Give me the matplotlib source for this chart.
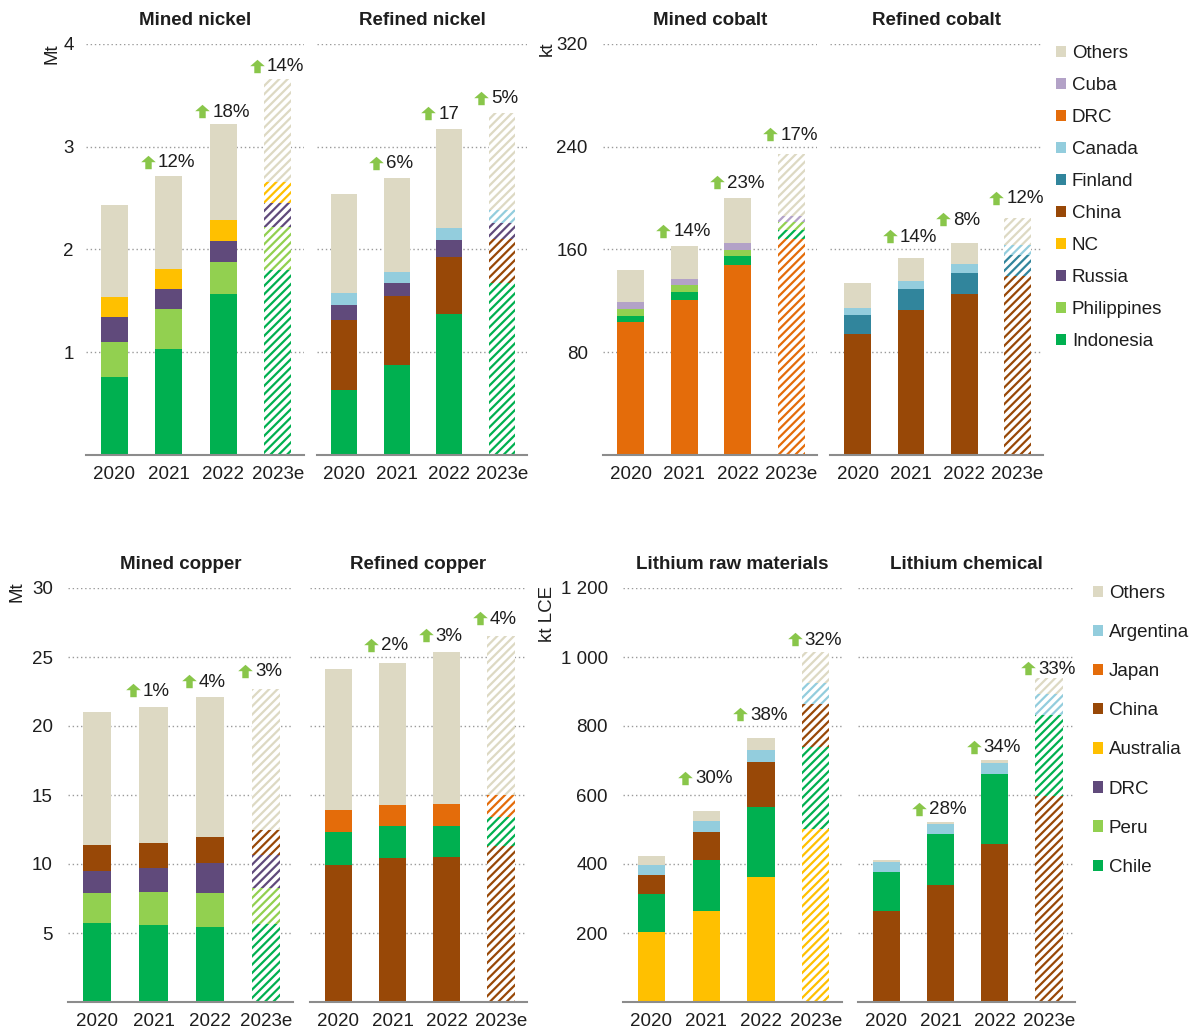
import matplotlib
matplotlib.use('Agg')
import matplotlib.pyplot as plt
import matplotlib.transforms as mtransforms
from matplotlib.patches import Patch
from matplotlib.ticker import FuncFormatter

plt.rcParams['font.family'] = ['Liberation Sans', 'DejaVu Sans']
plt.rcParams['hatch.linewidth'] = 1.6

years = ['2020', '2021', '2022', '2023e']

# stacked segments, bottom to top
mined_nickel = {
    'Indonesia':   [0.76, 1.03, 1.57, 1.80],
    'Philippines': [0.34, 0.39, 0.31, 0.42],
    'Russia':      [0.24, 0.20, 0.20, 0.23],
    'NC':          [0.20, 0.19, 0.21, 0.21],
    'Others':      [0.89, 0.91, 0.93, 1.00],
}
refined_nickel = {
    'Indonesia': [0.63, 0.88, 1.37, 1.67],
    'China':     [0.68, 0.67, 0.56, 0.43],
    'Russia':    [0.15, 0.12, 0.16, 0.16],
    'Canada':    [0.12, 0.11, 0.12, 0.12],
    'Others':    [0.96, 0.92, 0.96, 0.95],
}
mined_cobalt = {
    'DRC':         [103.3, 120.4, 147.6, 168.5],
    'Indonesia':   [5.2, 6.2, 7.0, 7.0],
    'Philippines': [5.2, 5.4, 5.1, 6.0],
    'Cuba':        [5.1, 5.2, 5.2, 4.6],
    'Others':      [24.9, 25.9, 35.0, 48.2],
}
refined_cobalt = {
    'China':   [94.2, 113.1, 125.0, 139.5],
    'Finland': [14.8, 16.1, 16.6, 16.6],
    'Canada':  [5.7, 5.9, 7.0, 7.5],
    'Others':  [18.9, 17.9, 16.3, 21.3],
}
mined_copper = {
    'Chile':  [5.72, 5.60, 5.41, 5.68],
    'Peru':   [2.18, 2.35, 2.49, 2.58],
    'DRC':    [1.57, 1.76, 2.17, 2.42],
    'China':  [1.88, 1.81, 1.89, 1.81],
    'Others': [9.69, 9.83, 10.14, 10.21],
}
refined_copper = {
    'China':  [9.95, 10.43, 10.50, 11.28],
    'Chile':  [2.35, 2.30, 2.28, 2.12],
    'Japan':  [1.60, 1.52, 1.57, 1.58],
    'Others': [10.20, 10.32, 11.01, 11.52],
}
lithium_raw = {
    'Australia': [202, 265, 361, 502],
    'Chile':     [112, 147, 204, 237],
    'China':     [53, 81, 131, 125],
    'Argentina': [31, 31, 35, 61],
    'Others':    [26, 31, 34, 89],
}
lithium_chemical = {
    'China':     [263, 339, 457, 598],
    'Chile':     [113, 147, 203, 235],
    'Argentina': [29, 30, 34, 61],
    'Others':    [6, 7, 8, 45],
}

growth = {
    'Mined nickel': ['12%', '18%', '14%'],
    'Refined nickel': ['6%', '17', '5%'],
    'Mined cobalt': ['14%', '23%', '17%'],
    'Refined cobalt': ['14%', '8%', '12%'],
    'Mined copper': ['1%', '4%', '3%'],
    'Refined copper': ['2%', '3%', '4%'],
    'Lithium raw materials': ['30%', '38%', '32%'],
    'Lithium chemical': ['28%', '34%', '33%'],
}

legend_top = ['Others', 'Cuba', 'DRC', 'Canada', 'Finland', 'China', 'NC',
              'Russia', 'Philippines', 'Indonesia']
legend_bottom = ['Others', 'Argentina', 'Japan', 'China', 'Australia', 'DRC',
                 'Peru', 'Chile']

colors = {
    'Others': '#DDD9C3', 'Cuba': '#B3A2C7', 'DRC': '#E46C0A', 'Canada': '#93CDDD',
    'Finland': '#31859C', 'China': '#984807', 'NC': '#FFC000', 'Russia': '#604A7B',
    'Philippines': '#92D050', 'Indonesia': '#00B050', 'Argentina': '#93CDDD',
    'Japan': '#E46C0A', 'Australia': '#FFC000', 'Peru': '#92D050', 'Chile': '#00B050',
}
colors_bottom = dict(colors, DRC='#604A7B')

W, H = 1190, 1035
fig = plt.figure(figsize=(W / 100, H / 100), dpi=100)
TXT = '#1e1e1e'
ARROW = '#89C64A'
# block arrow pointing up
arrow_marker = [(-0.22, -0.46), (0.22, -0.46), (0.22, 0.02), (0.5, 0.02), (0, 0.46),
                (-0.5, 0.02), (-0.22, 0.02)]


def px_axes(left, top, right, bottom, sharey=None):
    return fig.add_axes([left / W, 1 - bottom / H, (right - left) / W, (bottom - top) / H],
                        sharey=sharey)


def draw_panel(ax, title, data, cmap, ticks, lifts, fmt=None, show_y=True, ypad=11):
    base = [0.0] * 4
    for name, vals in data.items():
        c = cmap[name]
        ax.bar(range(3), vals[:3], 0.5, bottom=base[:3], color=c, lw=0, zorder=2)
        ax.bar(3, vals[3], 0.5, bottom=base[3], facecolor='white', edgecolor=c,
               hatch='////', lw=0, zorder=2)
        base = [b + v for b, v in zip(base, vals)]
    ax.set_ylim(0, ticks[-1])
    ax.set_yticks(ticks)
    if fmt:
        ax.yaxis.set_major_formatter(FuncFormatter(fmt))
    ax.set_xlim(-0.52, 3.48)
    ax.set_xticks(range(4))
    ax.set_xticklabels(years)
    for s in ('top', 'right', 'left'):
        ax.spines[s].set_visible(False)
    ax.spines['bottom'].set_color('#8c8c8c')
    ax.spines['bottom'].set_linewidth(1.5)
    ax.spines['bottom'].set_zorder(3)
    ax.tick_params(axis='both', length=0, labelsize=13.5, colors=TXT)
    ax.tick_params(axis='y', pad=ypad, labelleft=show_y)
    ax.tick_params(axis='x', pad=8)
    ax.yaxis.grid(True, linestyle=(0, (1, 2)), color='#9a9a9a', lw=1)
    ax.set_axisbelow(True)
    ax.set_title(title, fontweight='bold', fontsize=13.5, color=TXT, pad=14)
    for i, lbl in enumerate(growth[title], start=1):
        tr = mtransforms.offset_copy(ax.transData, fig=fig, x=-21, y=lifts[i - 1] + 1,
                                     units='dots')
        ax.plot(i, base[i], marker=arrow_marker, ms=10.5, color=ARROW, mew=0,
                transform=tr, clip_on=False, zorder=4)
        ax.annotate(lbl, xy=(i, base[i]), xytext=(-11, lifts[i - 1]),
                    textcoords='offset pixels', ha='left', va='center',
                    fontsize=13.5, color=TXT, annotation_clip=False)


def spaced(v, _):
    return f'{int(v):,}'.replace(',', ' ')


# top row
ax1 = px_axes(86, 44, 304, 455)
ax2 = px_axes(317, 44, 527, 455, sharey=ax1)
ax3 = px_axes(603, 44, 817, 455)
ax4 = px_axes(830, 44, 1043, 455, sharey=ax3)
draw_panel(ax1, 'Mined nickel', mined_nickel, colors, [1, 2, 3, 4], [13, 12, 12], ypad=9)
draw_panel(ax2, 'Refined nickel', refined_nickel, colors, [1, 2, 3, 4], [14, 15, 14],
           show_y=False)
draw_panel(ax3, 'Mined cobalt', mined_cobalt, colors, [80, 160, 240, 320], [14, 15, 19])
draw_panel(ax4, 'Refined cobalt', refined_cobalt, colors, [80, 160, 240, 320], [21, 23, 19],
           show_y=False)

# bottom row
ax5 = px_axes(68, 588, 293, 1002)
ax6 = px_axes(310, 588, 527, 1002, sharey=ax5)
ax7 = px_axes(623, 588, 842, 1002)
ax8 = px_axes(858, 588, 1075, 1002, sharey=ax7)
draw_panel(ax5, 'Mined copper', mined_copper, colors_bottom, [5, 10, 15, 20, 25, 30],
           [16, 15, 17])
draw_panel(ax6, 'Refined copper', refined_copper, colors_bottom, [5, 10, 15, 20, 25, 30],
           [17, 16, 17], show_y=False)
draw_panel(ax7, 'Lithium raw materials', lithium_raw, colors_bottom,
           [200, 400, 600, 800, 1000, 1200], [32, 23, 12], fmt=spaced)
draw_panel(ax8, 'Lithium chemical', lithium_chemical, colors_bottom,
           [200, 400, 600, 800, 1000, 1200], [12, 12, 9], fmt=spaced, show_y=False)

# unit labels
for x, y, s in [(52, 43, 'Mt'), (547, 42, 'kt'), (17, 581, 'Mt'), (548, 586, 'kt LCE')]:
    fig.text(x / W, 1 - y / H, s, rotation=90, ha='center', va='top', fontsize=13.5,
             color=TXT)

# legends
for names, cmap, x, y, sp in [(legend_top, colors, 1056, 45, 0.80),
                              (legend_bottom, colors_bottom, 1093, 585, 1.18)]:
    handles = [Patch(facecolor=cmap[n], lw=0) for n in names]
    fig.legend(handles, names, loc='upper left', bbox_to_anchor=(x / W, 1 - y / H),
               frameon=False, fontsize=13.5, handlelength=0.55, handleheight=0.55,
               handletextpad=0.3, labelspacing=sp, borderpad=0, borderaxespad=0,
               labelcolor=TXT)

fig.savefig('out.png', dpi=100, facecolor='white')
